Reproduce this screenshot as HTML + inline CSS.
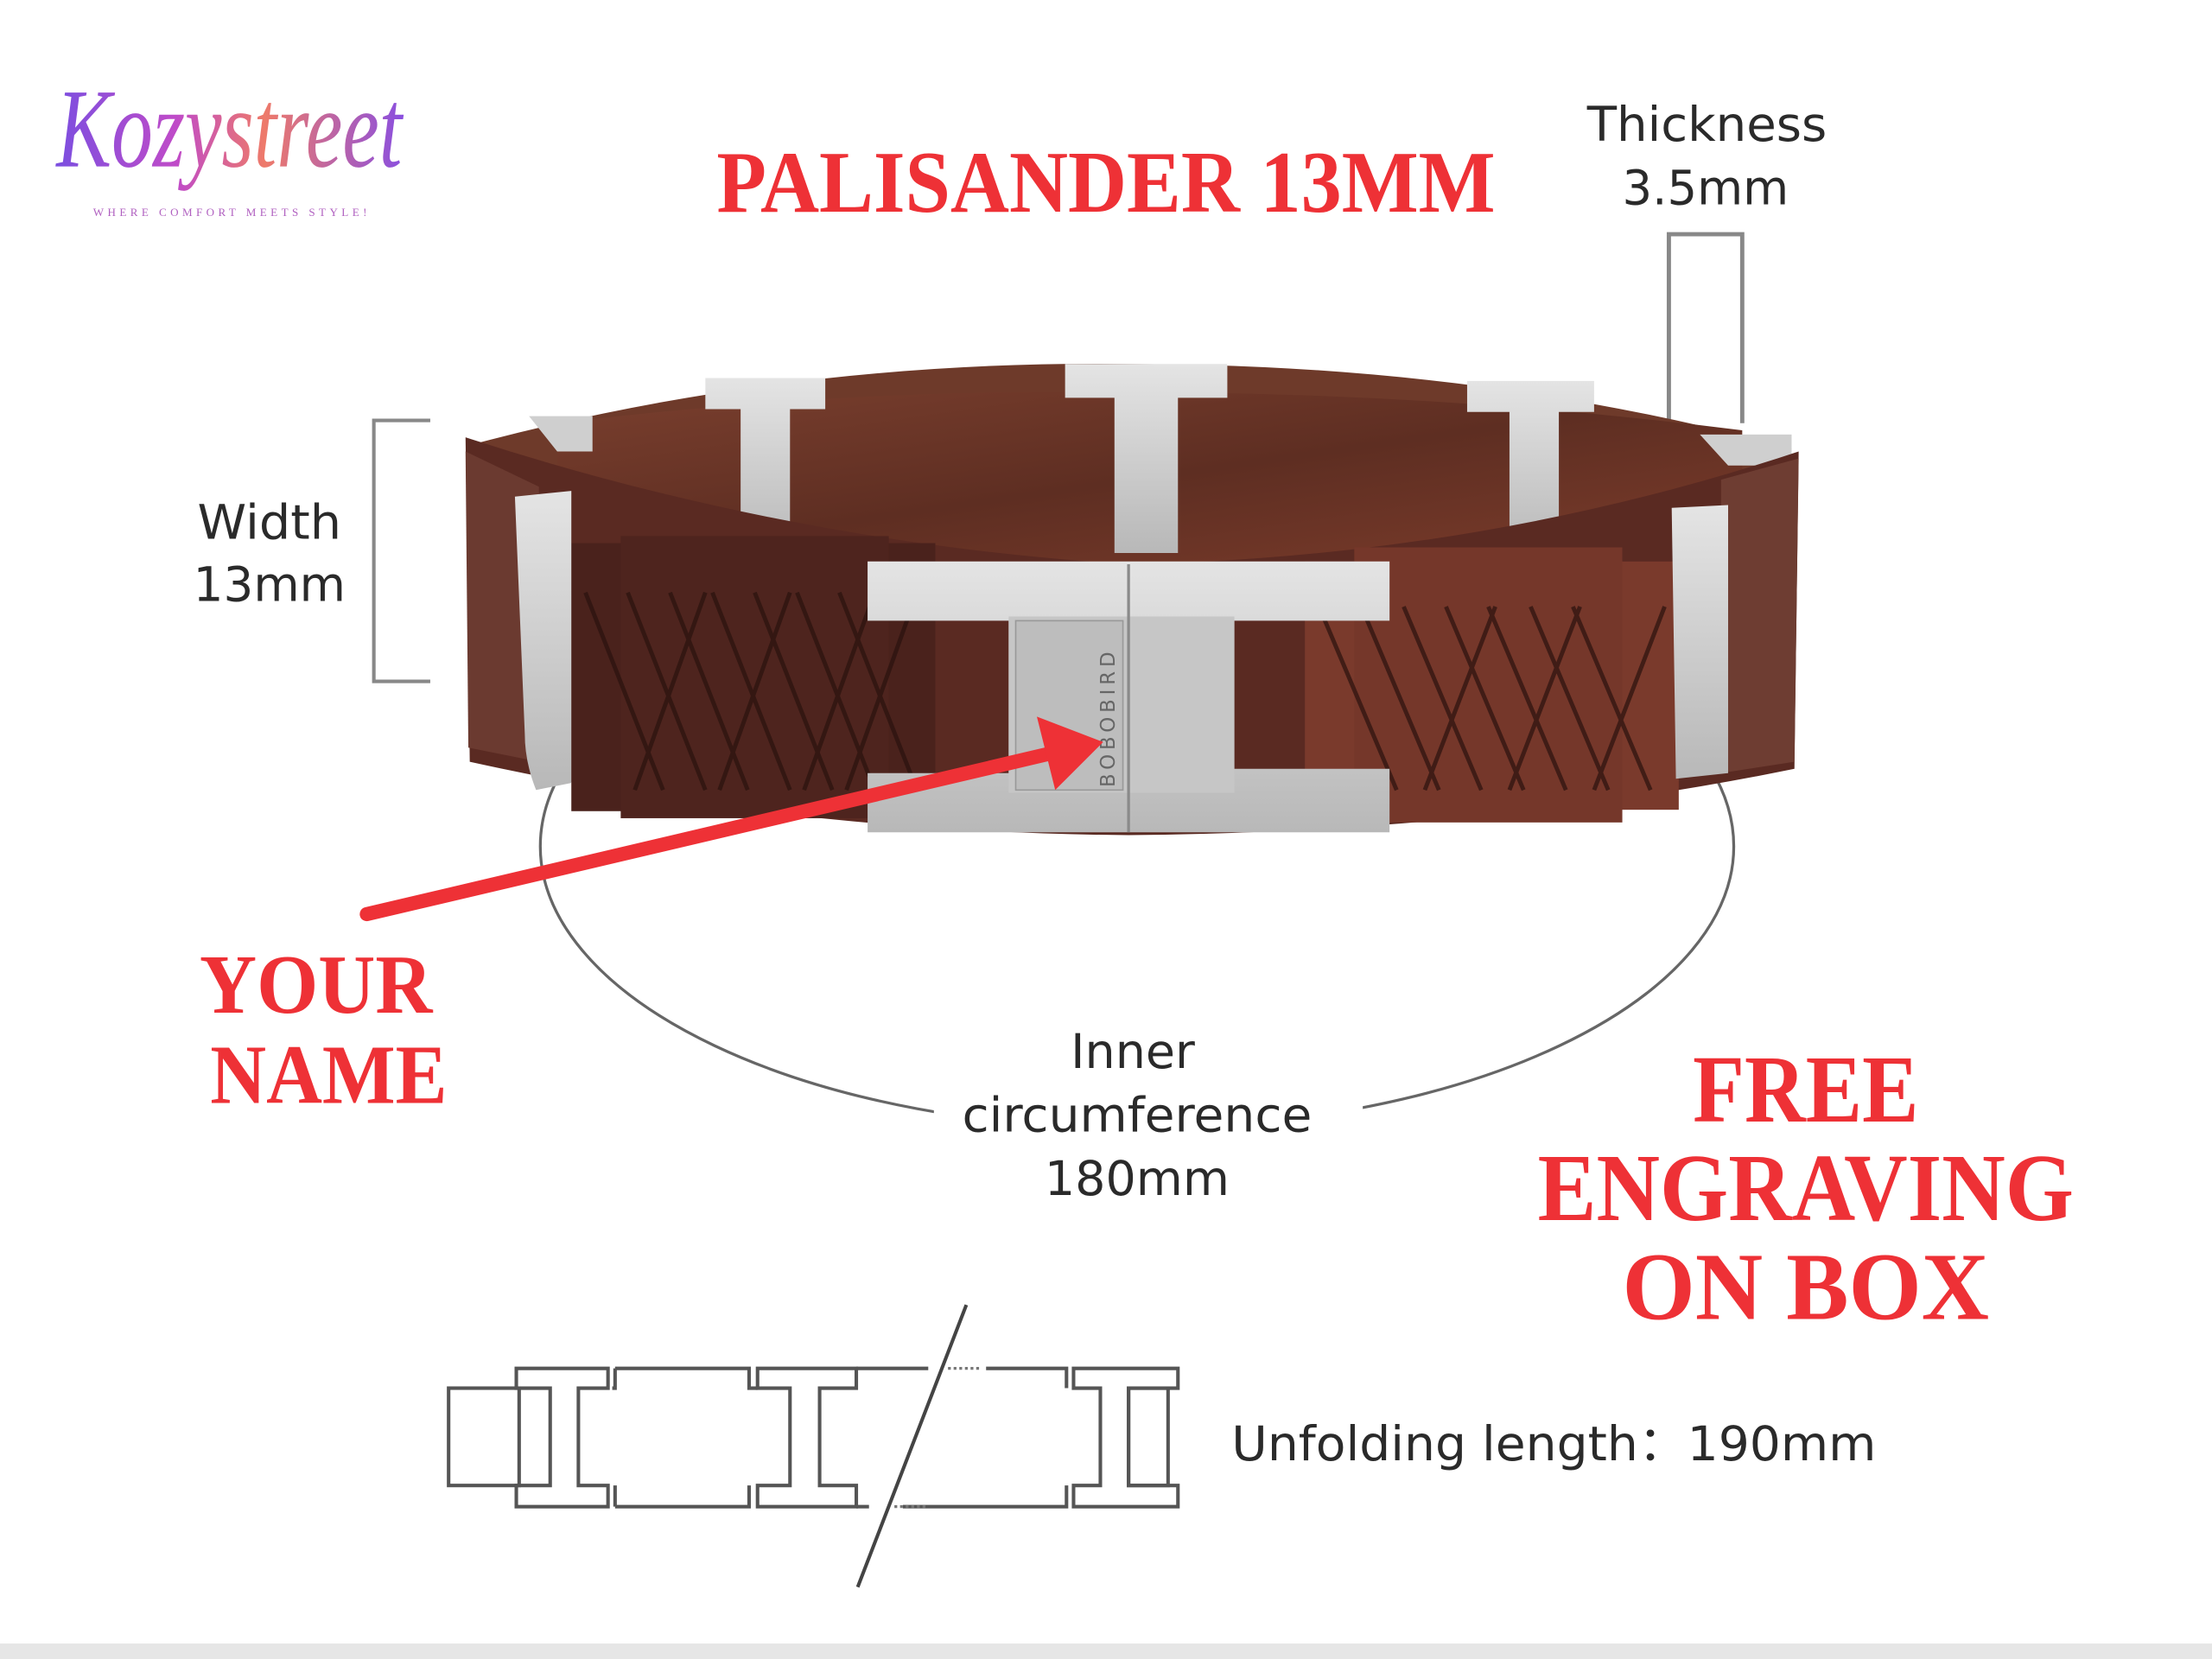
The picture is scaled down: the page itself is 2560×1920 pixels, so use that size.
<!DOCTYPE html>
<html><head><meta charset="utf-8"><style>
html,body{margin:0;padding:0;background:#fff;}
svg{display:block;}
</style></head><body>
<svg width="2560" height="1920" viewBox="0 0 1568 1176" preserveAspectRatio="none" xmlns="http://www.w3.org/2000/svg">
<defs>
<linearGradient id="lg" x1="0" x2="1" y1="0" y2="0">
<stop offset="0" stop-color="#7b4fe0"/><stop offset="0.35" stop-color="#c04bc8"/><stop offset="0.6" stop-color="#ee7a6a"/><stop offset="1" stop-color="#8a4fe0"/>
</linearGradient>
<linearGradient id="silver" x1="0" x2="0" y1="0" y2="1">
<stop offset="0" stop-color="#e4e4e4"/><stop offset="1" stop-color="#b8b8b8"/>
</linearGradient>
<linearGradient id="wood" x1="0" x2="1" y1="0" y2="1">
<stop offset="0" stop-color="#7a3f2e"/><stop offset="0.5" stop-color="#5e2e22"/><stop offset="1" stop-color="#7c3c2b"/>
</linearGradient>
</defs>
<rect width="1568" height="1176" fill="#fff"/>
<rect y="1165" width="1568" height="11" fill="#e6e6e6"/>

<!-- logo -->
<text x="40" y="118" font-family="Liberation Serif, serif" font-style="italic" font-size="80" fill="url(#lg)" textLength="245" lengthAdjust="spacingAndGlyphs">Kozystreet</text>
<text x="66" y="153" font-family="Liberation Serif, serif" font-size="8" fill="#b060c0" textLength="196" lengthAdjust="spacing" letter-spacing="2">WHERE COMFORT MEETS STYLE!</text>

<!-- title -->
<text x="508" y="150" font-family="Liberation Serif, serif" font-weight="bold" font-size="62" fill="#ee3136" textLength="552" lengthAdjust="spacingAndGlyphs">PALISANDER 13MM</text>

<!-- thickness -->
<g font-family="DejaVu Sans, Liberation Sans, sans-serif" fill="#2a2a2a" font-size="34">
<text x="1125" y="100" textLength="170" lengthAdjust="spacingAndGlyphs">Thickness</text>
<text x="1150" y="145" textLength="118" lengthAdjust="spacingAndGlyphs">3.5mm</text>
<text x="140" y="382" textLength="102" lengthAdjust="spacingAndGlyphs">Width</text>
<text x="137" y="426" textLength="108" lengthAdjust="spacingAndGlyphs">13mm</text>
</g>
<path d="M1183 300 V166 H1235 V300" fill="none" stroke="#888" stroke-width="3"/>
<path d="M305 298 H265 V483 H305" fill="none" stroke="#888" stroke-width="2.5"/>

<!-- ellipse -->
<ellipse cx="806" cy="600" rx="423" ry="200" fill="none" stroke="#666" stroke-width="2"/>
<rect x="662" y="720" width="304" height="140" fill="#fff"/>
<g font-family="DejaVu Sans, Liberation Sans, sans-serif" fill="#2a2a2a" font-size="34" text-anchor="middle">
<text x="803" y="757">Inner</text>
<text x="806" y="802" textLength="248" lengthAdjust="spacingAndGlyphs">circumference</text>
<text x="806" y="847">180mm</text>
</g>

<!-- bracelet: back band -->
<path d="M335 315 Q560 255 800 258 Q1050 258 1270 318 L1240 400 L390 400 Z" fill="#6e3a2a"/>
<path d="M395 300 Q600 275 800 278 Q1020 278 1235 305 L1235 400 L395 400 Z" fill="url(#wood)"/>
<!-- back I-links -->
<path d="M755 258 H870 V282 H835 V392 H790 V282 H755 Z" fill="url(#silver)"/>
<path d="M500 268 H585 V290 H560 V395 H525 V290 H500 Z" fill="url(#silver)"/>
<path d="M1040 270 H1130 V292 H1105 V395 H1070 V292 H1040 Z" fill="url(#silver)"/>
<path d="M375 295 H420 V320 H395 Z" fill="#cfcfcf"/>
<path d="M1205 308 H1270 V330 H1225 Z" fill="#cfcfcf"/>
<!-- front band -->
<path d="M330 310 Q560 385 800 400 Q1050 395 1275 320 L1272 545 Q1050 590 800 592 Q560 590 333 540 Z" fill="#5a2a22"/>
<path d="M330 320 L382 345 L382 540 L332 530 Z" fill="#6b3a30"/>
<path d="M1220 340 L1275 325 L1272 540 L1220 548 Z" fill="#6e3d32"/>
<rect x="405" y="385" width="258" height="190" fill="#4a221c"/>
<rect x="440" y="380" width="190" height="200" fill="#4e241e"/>
<rect x="925" y="398" width="265" height="176" fill="#7a3a2c"/>
<rect x="960" y="388" width="190" height="195" fill="#75372a"/>
<g stroke="#2a120e" stroke-width="3" opacity="0.7" fill="none">
<path d="M415 420 L470 560 M445 420 L500 560 M475 420 L530 560 M505 420 L560 560 M535 420 L590 560 M565 420 L620 560 M595 420 L650 560"/>
<path d="M650 420 L600 560 M620 420 L570 560 M560 420 L510 560 M500 420 L450 560"/>
<path d="M935 430 L990 560 M965 430 L1020 560 M995 430 L1050 560 M1025 430 L1080 560 M1055 430 L1110 560 M1085 430 L1140 560 M1115 430 L1170 560"/>
<path d="M1180 430 L1130 560 M1120 430 L1070 560 M1060 430 L1010 560"/>
</g>
<!-- front silver links -->
<path d="M365 352 L405 348 L405 555 L380 560 Q372 540 372 520 Z" fill="url(#silver)"/>
<path d="M1185 360 L1225 358 L1225 548 L1188 552 Z" fill="url(#silver)"/>
<path d="M615 398 H985 V440 H875 V545 H985 V590 H615 V548 H715 V440 H615 Z" fill="url(#silver)"/>
<rect x="715" y="437" width="160" height="125" fill="#c6c6c6"/>
<rect x="720" y="440" width="76" height="120" fill="#bdbdbd" stroke="#999" stroke-width="1"/>
<line x1="800" y1="400" x2="800" y2="590" stroke="#8a8a8a" stroke-width="2"/>
<text x="0" y="0" transform="translate(790,558) rotate(-90)" font-family="DejaVu Sans, sans-serif" font-size="14" fill="#666" letter-spacing="3">BOBOBIRD</text>

<!-- arrow -->
<line x1="260" y1="648" x2="745" y2="534" stroke="#ee3136" stroke-width="10" stroke-linecap="round"/>
<path d="M782 526 L735 508 L748 560 Z" fill="#ee3136"/>

<!-- red texts -->
<g font-family="Liberation Serif, serif" font-weight="bold" fill="#ee3136" text-anchor="middle">
<text x="224" y="718" font-size="60" textLength="165" lengthAdjust="spacingAndGlyphs">YOUR</text>
<text x="233" y="782" font-size="60" textLength="168" lengthAdjust="spacingAndGlyphs">NAME</text>
<text x="1280" y="795" font-size="68" textLength="160" lengthAdjust="spacingAndGlyphs">FREE</text>
<text x="1280" y="865" font-size="68" textLength="380" lengthAdjust="spacingAndGlyphs">ENGRAVING</text>
<text x="1280" y="935" font-size="68" textLength="260" lengthAdjust="spacingAndGlyphs">ON BOX</text>
</g>

<!-- unfolding diagram -->
<g fill="none" stroke="#555" stroke-width="2.5">
<rect x="318" y="984" width="50" height="69"/>
<path d="M366 970 H431 V984 H410 V1053 H431 V1068 H366 V1053 H390 V984 H366 Z"/>
<path d="M436 970 H531 V984 H537 M436 970 V984 H434 M436 1068 H531 V1053 M436 1068 V1053"/>
<path d="M537 970 H607 V984 H581 V1053 H607 V1068 H537 V1053 H560 V984 H537 Z"/>
<path d="M607 970 H658 M699 970 H756 V984 M607 1068 H616 M640 1068 H756 V1053"/>
<path d="M761 970 H835 V984 H800 V1053 H835 V1068 H761 V1053 H780 V984 H761 Z"/>
<rect x="800" y="984" width="28" height="69"/>
</g>
<g stroke="#777" stroke-width="2" stroke-dasharray="2 2"><line x1="672" y1="970" x2="695" y2="970"/><line x1="634" y1="1068" x2="658" y2="1068"/></g>
<line x1="685" y1="925" x2="608" y2="1125" stroke="#444" stroke-width="2.5"/>
<text x="873" y="1035" font-family="DejaVu Sans, Liberation Sans, sans-serif" font-size="34" fill="#2a2a2a" textLength="457" lengthAdjust="spacingAndGlyphs">Unfolding length：190mm</text>
</svg>
</body></html>
